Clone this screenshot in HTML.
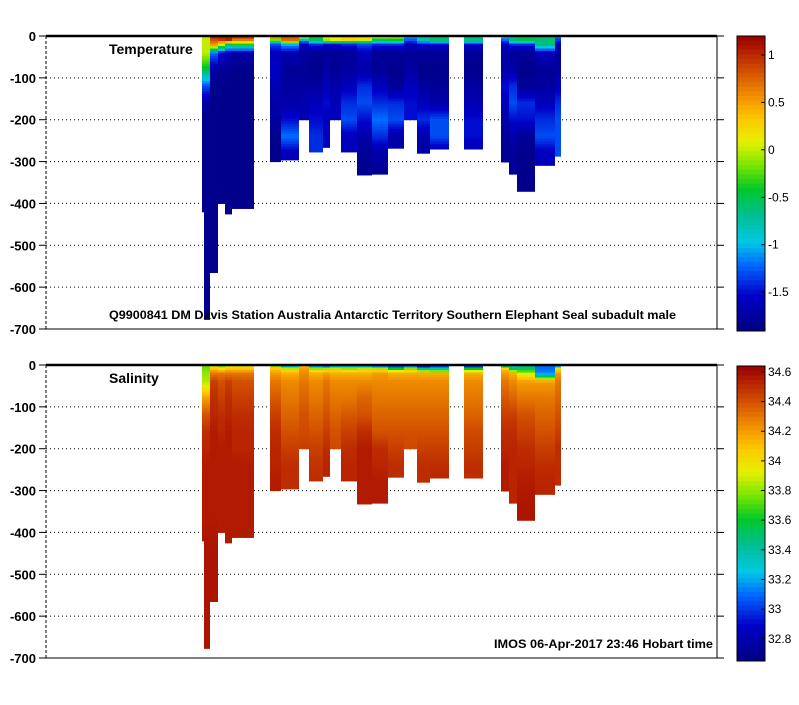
<!DOCTYPE html>
<html><head><meta charset="utf-8"><style>
body{margin:0;background:#fff;}
svg text{font-family:"Liberation Sans",sans-serif;}
</style></head><body>
<svg id="fig" width="799" height="700" xmlns="http://www.w3.org/2000/svg"></svg>
<script>
// ---- data ----
const depthLevels = [0,10,20,40,80,120,160,200,240,280,350,450,700];
const profileX0 = [202,204,210,218,225,232,270,281,299,309,323,330,341,357,372,388,404,417,430,464,501,509,517,535,555];
const profileX1 = [204,210,218,225,232,254,281,299,309,323,330,341,357,372,388,404,417,430,449,483,509,517,535,555,561];
const profileMaxDepth = [420,677,565,400,425,412,300,296,200,277,266,200,277,332,330,268,200,280,270,270,301,330,371,309,287];
const tempValues = [
 [0,0,0,0,-0.5,-1.3,-1.75,-1.85,-1.85,-1.85,-1.85,-1.85,-1.85],
 [0,0,0,0,-0.5,-1.3,-1.75,-1.85,-1.85,-1.85,-1.85,-1.85,-1.85],
 [1.1,0.8,0.6,-1.2,-1.7,-1.85,-1.85,-1.85,-1.85,-1.85,-1.85,-1.85,-1.85],
 [1.1,0.9,0.1,-1.5,-1.8,-1.85,-1.85,-1.85,-1.85,-1.85,-1.85,-1.85,-1.85],
 [1.1,1.0,-0.5,-1.6,-1.8,-1.85,-1.85,-1.85,-1.85,-1.85,-1.85,-1.85,-1.85],
 [1.1,0.6,-0.3,-1.7,-1.85,-1.85,-1.85,-1.85,-1.85,-1.85,-1.85,-1.85,-1.85],
 [0.9,-0.3,-1.3,-1.6,-1.55,-1.65,-1.7,-1.75,-1.85,-1.85,-1.85,-1.85,-1.85],
 [0.8,0.7,-1.0,-1.65,-1.8,-1.75,-1.7,-1.5,-1.2,-1.6,-1.6,-1.6,-1.6],
 [0.3,-1.0,-1.6,-1.75,-1.8,-1.75,-1.65,-1.65,-1.65,-1.65,-1.65,-1.65,-1.65],
 [-0.3,-0.6,-1.4,-1.8,-1.85,-1.75,-1.6,-1.5,-1.4,-1.4,-1.4,-1.4,-1.4],
 [0.1,-0.1,-1.5,-1.8,-1.7,-1.6,-1.5,-1.6,-1.6,-1.6,-1.6,-1.6,-1.6],
 [0.2,0.1,-1.5,-1.8,-1.8,-1.7,-1.6,-1.6,-1.6,-1.6,-1.6,-1.6,-1.6],
 [0.4,0.2,-1.4,-1.8,-1.75,-1.6,-1.4,-1.3,-1.6,-1.6,-1.6,-1.6,-1.6],
 [0.3,0.0,-1.3,-1.6,-1.7,-1.4,-1.3,-1.5,-1.7,-1.8,-1.85,-1.85,-1.85],
 [0.2,-0.6,-1.4,-1.8,-1.8,-1.6,-1.4,-1.2,-1.4,-1.7,-1.85,-1.85,-1.85],
 [0.1,-0.5,-1.4,-1.8,-1.85,-1.8,-1.4,-1.3,-1.7,-1.7,-1.7,-1.7,-1.7],
 [-1.0,-1.3,-1.6,-1.8,-1.75,-1.6,-1.5,-1.5,-1.5,-1.5,-1.5,-1.5,-1.5],
 [-0.8,-0.8,-1.5,-1.8,-1.85,-1.75,-1.6,-1.4,-1.7,-1.7,-1.7,-1.7,-1.7],
 [-0.6,-0.6,-1.5,-1.8,-1.85,-1.8,-1.7,-1.3,-1.3,-1.7,-1.7,-1.7,-1.7],
 [-0.8,-0.6,-1.5,-1.8,-1.85,-1.75,-1.65,-1.5,-1.5,-1.7,-1.7,-1.7,-1.7],
 [-0.6,-1.3,-1.6,-1.7,-1.7,-1.5,-1.6,-1.7,-1.8,-1.8,-1.8,-1.8,-1.8],
 [-0.7,-0.6,-1.4,-1.8,-1.7,-1.4,-1.3,-1.5,-1.7,-1.8,-1.8,-1.8,-1.8],
 [-0.5,-0.5,-1.4,-1.8,-1.85,-1.8,-1.4,-1.5,-1.8,-1.85,-1.85,-1.85,-1.85],
 [-0.6,-0.6,-0.6,-1.6,-1.8,-1.75,-1.6,-1.4,-1.3,-1.6,-1.6,-1.6,-1.6],
 [-1.1,-1.4,-1.6,-1.8,-1.75,-1.6,-1.4,-1.3,-1.3,-1.3,-1.3,-1.3,-1.3]
];
const salValues = [
 [33.75,33.75,33.8,33.85,34.2,34.4,34.5,34.52,34.55,34.55,34.55,34.57,34.57],
 [33.75,33.75,33.8,33.85,34.2,34.4,34.5,34.52,34.55,34.55,34.55,34.57,34.57],
 [33.9,34.1,34.3,34.45,34.5,34.52,34.55,34.55,34.55,34.55,34.55,34.57,34.57],
 [33.7,34.0,34.3,34.4,34.45,34.5,34.52,34.55,34.55,34.55,34.55,34.55,34.55],
 [33.9,34.1,34.3,34.45,34.5,34.52,34.55,34.55,34.55,34.55,34.55,34.55,34.55],
 [33.9,34.1,34.3,34.4,34.45,34.5,34.52,34.52,34.55,34.55,34.55,34.55,34.55],
 [33.7,34.1,34.2,34.3,34.38,34.45,34.5,34.52,34.52,34.55,34.55,34.55,34.55],
 [33.0,33.95,34.15,34.25,34.3,34.35,34.4,34.45,34.5,34.5,34.5,34.5,34.5],
 [34.1,34.2,34.25,34.3,34.35,34.4,34.42,34.45,34.45,34.45,34.45,34.45,34.45],
 [32.9,33.9,34.15,34.25,34.3,34.35,34.4,34.45,34.48,34.5,34.5,34.5,34.5],
 [32.75,33.95,34.2,34.3,34.35,34.4,34.45,34.5,34.52,34.52,34.52,34.52,34.52],
 [33.0,33.95,34.15,34.25,34.3,34.35,34.4,34.42,34.42,34.42,34.42,34.42,34.42],
 [33.0,33.9,34.15,34.25,34.3,34.38,34.45,34.5,34.52,34.52,34.52,34.52,34.52],
 [33.0,33.95,34.15,34.25,34.35,34.4,34.5,34.55,34.55,34.55,34.55,34.55,34.55],
 [32.8,33.95,34.2,34.25,34.3,34.35,34.4,34.5,34.52,34.55,34.55,34.55,34.55],
 [32.75,33.7,34.15,34.25,34.3,34.35,34.4,34.45,34.5,34.5,34.5,34.5,34.5],
 [32.85,33.9,34.15,34.25,34.3,34.35,34.4,34.42,34.42,34.42,34.42,34.42,34.42],
 [32.7,33.5,34.15,34.25,34.3,34.35,34.4,34.45,34.5,34.5,34.5,34.5,34.5],
 [32.9,33.4,34.15,34.25,34.3,34.35,34.4,34.45,34.5,34.52,34.52,34.52,34.52],
 [32.7,33.7,34.15,34.25,34.3,34.35,34.42,34.45,34.5,34.5,34.5,34.5,34.5],
 [33.4,34.1,34.2,34.3,34.38,34.45,34.5,34.52,34.55,34.55,34.55,34.55,34.55],
 [33.3,33.5,34.15,34.25,34.35,34.45,34.5,34.52,34.52,34.52,34.52,34.52,34.52],
 [33.45,33.5,33.9,34.2,34.3,34.4,34.45,34.5,34.52,34.55,34.57,34.57,34.57],
 [33.1,33.1,33.15,34.2,34.3,34.35,34.4,34.45,34.5,34.52,34.52,34.52,34.52],
 [32.9,34.0,34.2,34.3,34.35,34.4,34.45,34.5,34.5,34.5,34.5,34.5,34.5]
];
const depthTicks = [0,-100,-200,-300,-400,-500,-600,-700];
const tempTicks = [1,0.5,0,-0.5,-1,-1.5];
const tempTickLabels = ['1','0.5','0','-0.5','-1','-1.5'];
const salTicks = [34.6,34.4,34.2,34,33.8,33.6,33.4,33.2,33,32.8];
const salTickLabels = ['34.6','34.4','34.2','34','33.8','33.6','33.4','33.2','33','32.8'];

// ---- drawing ----
const NS='http://www.w3.org/2000/svg';
const svg=document.getElementById('fig');
function mk(tag,attrs,parent){const e=document.createElementNS(NS,tag);for(const k in attrs)e.setAttribute(k,attrs[k]);(parent||svg).appendChild(e);return e;}
const cmapStops=[[0,0,0,130],[0.12,0,0,200],[0.22,0,100,255],[0.3,0,200,230],[0.4,0,190,140],[0.48,0,200,40],[0.56,120,230,0],[0.64,230,240,0],[0.72,255,200,0],[0.8,240,140,0],[0.88,210,80,0],[0.95,180,30,0],[1,150,0,0]];
function cmap(t){t=Math.max(0,Math.min(1,t));
 for(let i=0;i<cmapStops.length-1;i++){const a=cmapStops[i],b=cmapStops[i+1];
  if(t<=b[0]){const f=(t-a[0])/(b[0]-a[0]);
   return `rgb(${Math.round(a[1]+f*(b[1]-a[1]))},${Math.round(a[2]+f*(b[2]-a[2]))},${Math.round(a[3]+f*(b[3]-a[3]))})`;}}
 return 'rgb(150,0,0)';}
function interp(vals,d){for(let i=0;i<depthLevels.length-1;i++){if(d<=depthLevels[i+1]){const f=(d-depthLevels[i])/(depthLevels[i+1]-depthLevels[i]);return vals[i]+f*(vals[i+1]-vals[i]);}}return vals[vals.length-1];}

const X0=46,X1=717;
function panel(name,top,bottom,values,vmin,vmax,ticks,tickLabels,label,cbTop,cbBot){
 const g=mk('g',{});  
 const yScale=d=>top+(bottom-top)*(d/700);
 depthTicks.forEach((t,i)=>{const y=yScale(-t);
   if(i>0&&i<depthTicks.length-1){const gl=mk('line',{x1:X0,x2:X1,y1:y,y2:y,stroke:'#000','stroke-dasharray':'1,3','stroke-width':1},g);}
   mk('line',{x1:X0-7,x2:X0,y1:y,y2:y,stroke:'#000'},g);
   mk('line',{x1:X1,x2:X1+7,y1:y,y2:y,stroke:'#000'},g);
   const tx=mk('text',{x:X0-10,y:y+5,'text-anchor':'end','font-size':13,'font-weight':'bold'},g);tx.textContent=t;
   
 });
 const pg=mk('g',{},g);  
 const step=6;
 for(let p=0;p<profileX0.length;p++){
  const col=mk('g',{},pg);  
  for(let d=0;d<profileMaxDepth[p];d+=step){
   const d2=Math.min(d+step,profileMaxDepth[p]);
   const v=interp(values[p],d+step/2);
   mk('rect',{x:profileX0[p],y:yScale(d),width:profileX1[p]-profileX0[p],height:yScale(d2)-yScale(d)+0.5,fill:cmap((v-vmin)/(vmax-vmin))},col);
  }
 }
 const l=mk('line',{x1:X0,x2:X0,y1:top,y2:bottom,stroke:'#000','stroke-dasharray':'3,2'},g);
 mk('line',{x1:X1,x2:X1,y1:top,y2:bottom,stroke:'#000'},g);
 mk('line',{x1:X0,x2:X1,y1:bottom,y2:bottom,stroke:'#000'},g);
 mk('line',{x1:X0,x2:X1,y1:top,y2:top,stroke:'#000','stroke-width':2.5},g);
 const lb=mk('text',{x:109,y:top+18,'font-size':14,'font-weight':'bold'},g);lb.textContent=label;
 
 const cb=mk('g',{},g);  
 const n=64;
 for(let i=0;i<n;i++){const y0=cbTop+(cbBot-cbTop)*i/n;
  mk('rect',{x:737,y:y0,width:28,height:(cbBot-cbTop)/n+0.5,fill:cmap(1-(i+0.5)/n)},cb);}
 mk('rect',{x:737,y:cbTop,width:28,height:cbBot-cbTop,fill:'none',stroke:'#000'},cb);
 const cbY=v=>cbTop+(cbBot-cbTop)*(vmax-v)/(vmax-vmin);
 ticks.forEach((v,i)=>{const y=cbY(v);
  mk('line',{x1:761,x2:765,y1:y,y2:y,stroke:'#000'},cb);
  const t=mk('text',{x:768,y:y+4,'font-size':12},cb);t.textContent=tickLabels[i];
  });
 return g;
}
panel('temperature',36,329,tempValues,-1.91,1.2,tempTicks,tempTickLabels,'Temperature',36,331);
panel('salinity',365,658,salValues,32.65,34.64,salTicks,salTickLabels,'Salinity',366,661);
const t1=mk('text',{x:109,y:319,'font-size':12,'font-weight':'bold',textLength:567,lengthAdjust:'spacingAndGlyphs'});
t1.textContent='Q9900841 DM Davis Station Australia Antarctic Territory Southern Elephant Seal subadult male';

const t2=mk('text',{x:494,y:648,'font-size':12,'font-weight':'bold',textLength:219,lengthAdjust:'spacingAndGlyphs'});
t2.textContent='IMOS 06-Apr-2017 23:46 Hobart time';

</script>
</body></html>
